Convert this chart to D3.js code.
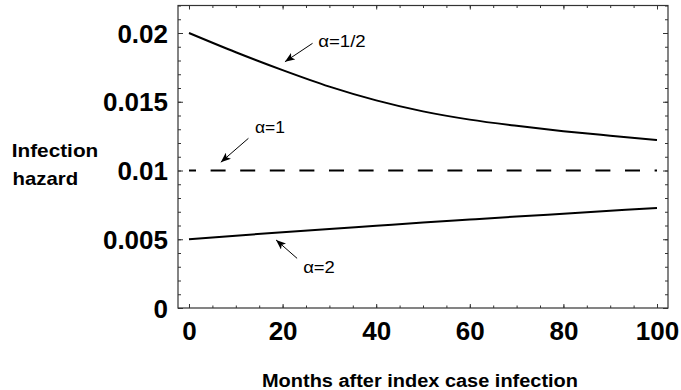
<!DOCTYPE html>
<html><head><meta charset="utf-8">
<script src="https://cdn.jsdelivr.net/npm/d3@7/dist/d3.min.js"></script>
<style>body{margin:0;background:#fff}svg{display:block}</style>
</head><body><svg id="c" width="681" height="390"></svg>
<script>
const months = [0,10,20,30,40,50,60,70,80,90,100];
const hazardHalf = [0.0200,0.0186,0.0173,0.0161,0.0151,0.0143,0.0137,0.01325,0.01286,0.01253,0.01222];
const hazardOne  = [0.0100,0.0100,0.0100,0.0100,0.0100,0.0100,0.0100,0.0100,0.0100,0.0100,0.0100];
const hazardTwo  = [0.00500,0.00526,0.00551,0.00575,0.00598,0.00621,0.00643,0.00665,0.00686,0.00707,0.00728];
const xTicks = [0,20,40,60,80,100];
const xTickLabels = ["0","20","40","60","80","100"];
const yTicks = [0,0.005,0.01,0.015,0.02];
const yTickLabels = ["0","0.005","0.01","0.015","0.02"];
const seriesLabels = ["\u03b1=1/2","\u03b1=1","\u03b1=2"];
// annotation anchors in data units: [tipT, tipV, tailT, tailV, labelT, labelV]
const annAnchors = [[20.5,0.01791,26.4,0.01925,27.6,0.0190],
                    [6.8,0.0106,12.7,0.01234,14.1,0.0127],
                    [18.6,0.00495,23.1,0.00361,24.4,0.00252]];

const svg = d3.select("#c");
const L=178,R=668,T=5.5,B=308;
const x = d3.scaleLinear().domain([-2.35,102.35]).range([L,R]);
const y = d3.scaleLinear().domain([0,0.022]).range([B,T]);
const font = "Liberation Sans, Arial, Helvetica, sans-serif";
const axCol = "#333";

svg.append("defs").append("marker").attr("id","ah").attr("viewBox","0 0 10 8")
  .attr("refX",10).attr("refY",4).attr("markerWidth",10).attr("markerHeight",8)
  .attr("markerUnits","userSpaceOnUse").attr("orient","auto")
  .append("path").attr("d","M0,0 L10,4 L0,8 L2.5,4 Z").attr("fill","#000");

// frame
svg.append("rect").attr("x",L).attr("y",T).attr("width",R-L).attr("height",B-T)
  .attr("fill","none").attr("stroke",axCol).attr("stroke-width",1.2);

function styleAxis(g){ g.select(".domain").remove(); g.selectAll("line").attr("stroke",axCol).attr("stroke-width",1); }
const xMinor = d3.range(0,101,5), yMinor = d3.range(0,0.0221,0.001);
svg.append("g").attr("transform",`translate(0,${B})`).call(d3.axisBottom(x).tickValues(xMinor).tickSize(-2.5).tickFormat("")).call(styleAxis);
svg.append("g").attr("transform",`translate(0,${T})`).call(d3.axisTop(x).tickValues(xMinor).tickSize(-2.5).tickFormat("")).call(styleAxis);
svg.append("g").attr("transform",`translate(${L},0)`).call(d3.axisLeft(y).tickValues(yMinor).tickSize(-3).tickFormat("")).call(styleAxis);
svg.append("g").attr("transform",`translate(${R},0)`).call(d3.axisRight(y).tickValues(yMinor).tickSize(-3).tickFormat("")).call(styleAxis);
svg.append("g").attr("transform",`translate(0,${T})`).call(d3.axisTop(x).tickValues(xTicks).tickSize(-4).tickFormat("")).call(styleAxis);
svg.append("g").attr("transform",`translate(${R},0)`).call(d3.axisRight(y).tickValues(yTicks).tickSize(-5).tickFormat("")).call(styleAxis);

const gx = svg.append("g").attr("transform",`translate(0,${B})`)
  .call(d3.axisBottom(x).tickValues(xTicks).tickSize(-4).tickPadding(0).tickFormat((d,i)=>xTickLabels[i]));
styleAxis(gx);
gx.selectAll("text").attr("y",0).attr("dy",0).attr("transform","translate(0,32)")
  .attr("font-family",font).attr("font-weight","bold").attr("font-size",26).attr("fill","#000");

const gy = svg.append("g").attr("transform",`translate(${L},0)`)
  .call(d3.axisLeft(y).tickValues(yTicks).tickSize(-5).tickPadding(10).tickFormat((d,i)=>yTickLabels[i]));
styleAxis(gy);
gy.selectAll("text").attr("x",-10).attr("dy","0.35em")
  .attr("font-family",font).attr("font-weight","bold").attr("font-size",26).attr("fill","#000");

// titles
svg.append("text").attr("x",11.7).attr("y",157.3).attr("font-family",font).attr("font-weight","bold")
  .attr("font-size",19).attr("textLength",86.6).attr("lengthAdjust","spacingAndGlyphs").text("Infection");
svg.append("text").attr("x",12.5).attr("y",185).attr("font-family",font).attr("font-weight","bold")
  .attr("font-size",19).attr("textLength",65.6).attr("lengthAdjust","spacingAndGlyphs").text("hazard");
svg.append("text").attr("x",(L+R)/2-3).attr("y",387).attr("text-anchor","middle").attr("font-family",font)
  .attr("font-weight","bold").attr("font-size",18).attr("textLength",316).attr("lengthAdjust","spacingAndGlyphs")
  .text("Months after index case infection");

// series
const line = d3.line().x((d,i)=>x(months[i])).y(d=>y(d)).curve(d3.curveMonotoneX);
svg.append("path").datum(hazardHalf).attr("d",line).attr("fill","none").attr("stroke","#000").attr("stroke-width",2);
svg.append("path").datum(hazardTwo).attr("d",line).attr("fill","none").attr("stroke","#000").attr("stroke-width",2);
svg.append("path").datum(hazardOne).attr("d",line).attr("fill","none").attr("stroke","#000").attr("stroke-width",2)
  .attr("stroke-dasharray","15,14.6").attr("stroke-dashoffset",8);

// annotations
const labelWidths=[47.6,30,31.7];
annAnchors.forEach((a,i)=>{
  svg.append("line").attr("x1",x(a[2])).attr("y1",y(a[3])).attr("x2",x(a[0])).attr("y2",y(a[1]))
    .attr("stroke","#000").attr("stroke-width",1).attr("marker-end","url(#ah)");
  svg.append("text").attr("x",x(a[4])).attr("y",y(a[5])).attr("font-family",font).attr("font-size",16)
    .attr("textLength",labelWidths[i]).attr("lengthAdjust","spacingAndGlyphs").text(seriesLabels[i]);
});
</script></body></html>
